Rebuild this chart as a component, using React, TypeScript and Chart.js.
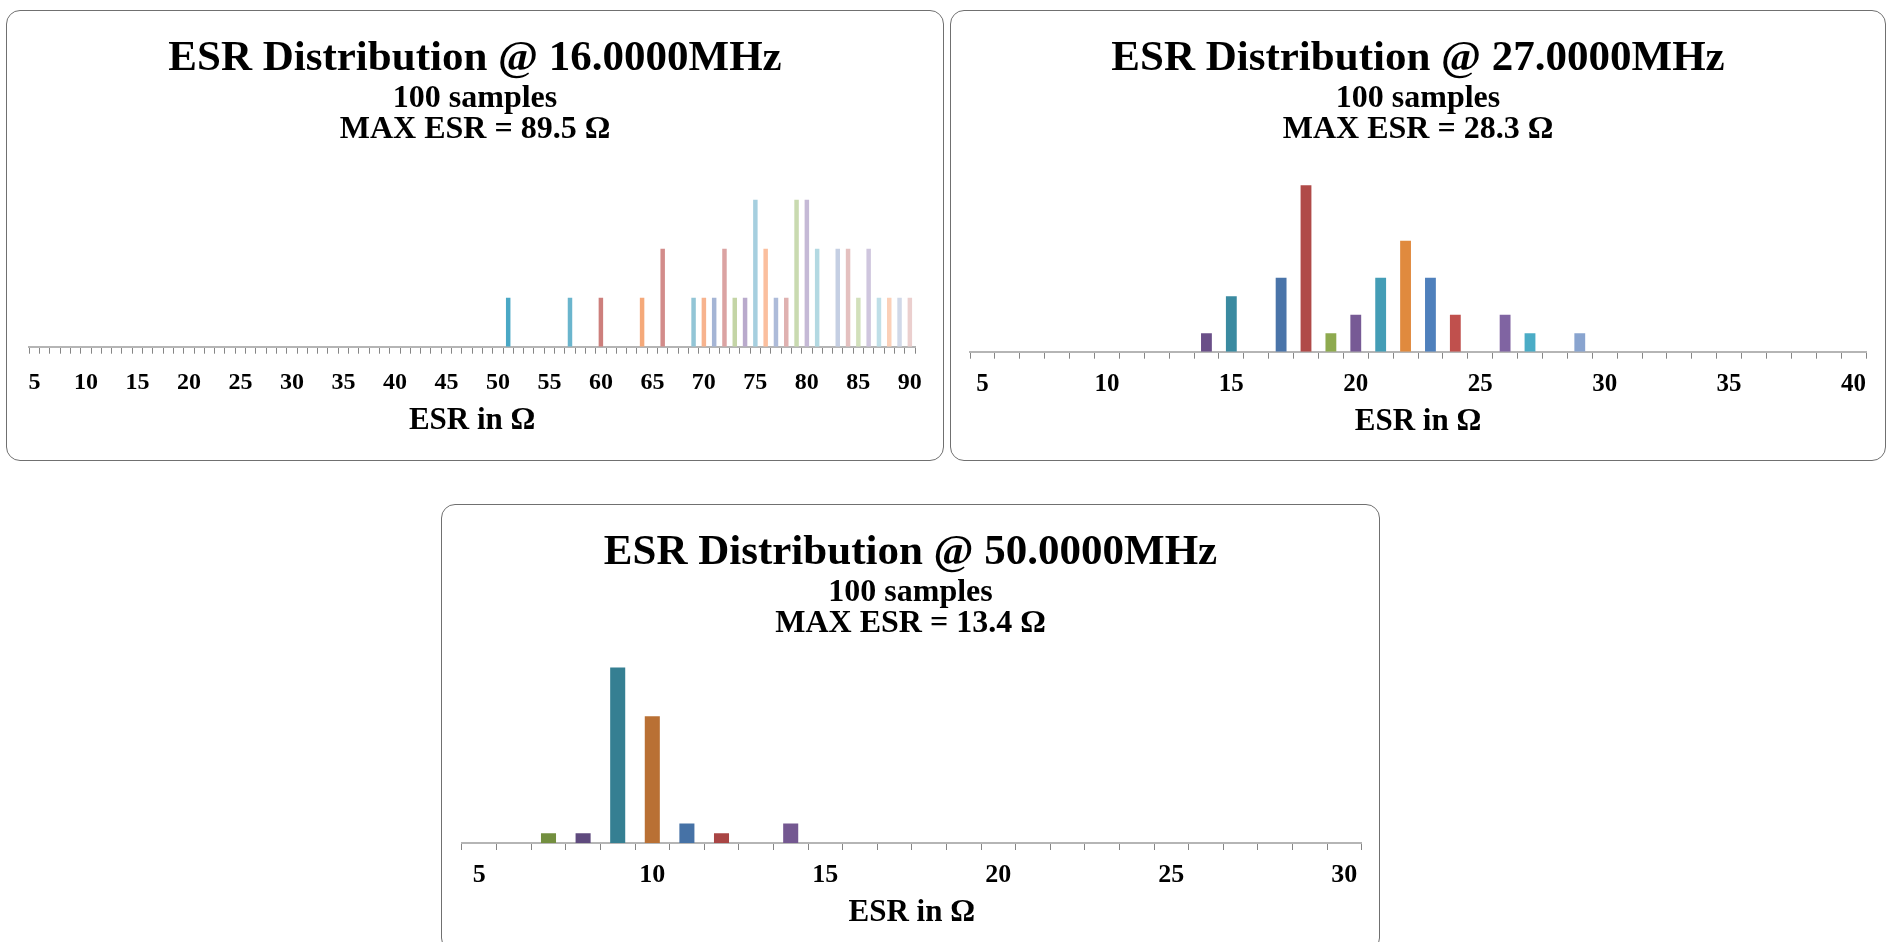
import React, { useEffect, useRef } from "react";
import { Chart, registerables } from "chart.js";

Chart.register(...registerables);

// ---------- Panel 1: 16 MHz ----------
const esr16Range = [5, 90];
const esr16Bins = [51, 57, 60, 64, 66, 69, 70, 71, 72, 73, 74, 75, 76, 77, 78, 79, 80, 81, 83, 84, 85, 86, 87, 88, 89, 90];
const esr16Counts = [1, 1, 1, 1, 2, 1, 1, 1, 2, 1, 1, 3, 2, 1, 1, 3, 3, 2, 2, 2, 1, 2, 1, 1, 1, 1];
const esr16Colors = [
  "#4aa8c5", "#6ab5cd", "#cd7f7c", "#f5a97a", "#d38c8a", "#92c5d6", "#f7b38e", "#a5b5d5",
  "#dba3a2", "#c4d5a6", "#b9aacc", "#a6cfdf", "#fbbf9e", "#adbbd9", "#dfb1b0", "#c9dab0",
  "#c5b9d6", "#b3d9e2", "#c5cfe3", "#e4c0bf", "#d2e0bb", "#cfc6de", "#bfdfe8", "#fbd0b8",
  "#d0d8e8", "#ebcfce",
];
const esr16Title = ["ESR Distribution @ 16.0000MHz", "100 samples", "MAX ESR = 89.5 Ω"];

// ---------- Panel 2: 27 MHz ----------
const esr27Range = [5, 40];
const esr27Bins = [14, 15, 17, 18, 19, 20, 21, 22, 23, 24, 26, 27, 29];
const esr27Counts = [1, 3, 4, 9, 1, 2, 4, 6, 4, 2, 2, 1, 1];
const esr27Colors = [
  "#6a4f88", "#3a8aa0", "#4a74a9", "#b04a48", "#8eaa4f", "#775a95", "#449db6",
  "#e08a3e", "#4f80bc", "#c0504d", "#8064a2", "#4bacc6", "#89a4cf",
];
const esr27Title = ["ESR Distribution @ 27.0000MHz", "100 samples", "MAX ESR = 28.3 Ω"];

// ---------- Panel 3: 50 MHz ----------
const esr50Range = [5, 30];
const esr50Bins = [7, 8, 9, 10, 11, 12, 14];
const esr50Counts = [1, 1, 18, 13, 2, 1, 2];
const esr50Colors = ["#738f3f", "#5f4a7e", "#357f92", "#b97034", "#4672a6", "#a94544", "#745891"];
const esr50Title = ["ESR Distribution @ 50.0000MHz", "100 samples", "MAX ESR = 13.4 Ω"];

const axisTitle = "ESR in Ω";
const tickStep = 5;

const SERIF = '"Liberation Serif", "Times New Roman", serif';

type PanelCfg = {
  range: number[];
  bins: number[];
  counts: number[];
  colors: string[];
  title: string[];
  rect: { left: number; top: number; width: number; height: number };
  pad: { left: number; right: number; top: number; bottom: number };
  yMax: number;
  tickPad: number;
  tickSize: number;
  titlePad: { top: number; bottom: number };
};

const headerPlugin = {
  id: "header",
  afterDraw(chart: any, _args: any, opts: any) {
    const { ctx, width } = chart;
    ctx.save();
    ctx.fillStyle = "#000";
    ctx.textAlign = "center";
    ctx.textBaseline = "alphabetic";
    (opts.lines || []).forEach((l: any) => {
      ctx.font = `bold ${l.size}px ${SERIF}`;
      ctx.fillText(l.text, width / 2, l.y);
    });
    ctx.restore();
  },
};

function Panel({ cfg }: { cfg: PanelCfg }) {
  const ref = useRef<HTMLCanvasElement | null>(null);
  useEffect(() => {
    if (!ref.current) return;
    const labels: string[] = [];
    for (let v = cfg.range[0]; v <= cfg.range[1]; v++) labels.push(String(v));
    const data = labels.map((l) => {
      const i = cfg.bins.indexOf(Number(l));
      return i >= 0 ? cfg.counts[i] : 0;
    });
    const colors = labels.map((l) => {
      const i = cfg.bins.indexOf(Number(l));
      return i >= 0 ? cfg.colors[i] : "rgba(0,0,0,0)";
    });
    const chart = new Chart(ref.current, {
      type: "bar",
      data: {
        labels,
        datasets: [
          {
            data,
            backgroundColor: colors,
            borderWidth: 0,
            barPercentage: 0.435,
            categoryPercentage: 1,
          },
        ],
      },
      plugins: [headerPlugin as any],
      options: {
        animation: false,
        responsive: false,
        devicePixelRatio: 1,
        layout: { padding: cfg.pad },
        plugins: {
          legend: { display: false },
          title: { display: false },
          tooltip: { enabled: false },
          header: {
            lines: [
              { text: cfg.title[0], size: 43, y: 60 },
              { text: cfg.title[1], size: 32, y: 97 },
              { text: cfg.title[2], size: 32, y: 128 },
            ],
          },
        } as any,
        scales: {
          x: {
            offset: true,
            grid: {
              offset: true,
              drawOnChartArea: false,
              drawTicks: true,
              tickLength: 7,
              color: "#858585",
              lineWidth: 1,
            },
            border: { display: true, color: "#b5b5b5", width: 2 },
            ticks: {
              autoSkip: false,
              maxRotation: 0,
              minRotation: 0,
              padding: cfg.tickPad,
              color: "#000",
              font: { family: SERIF, size: cfg.tickSize, weight: "bold", lineHeight: 1.2 },
              callback: function (this: any, value: any) {
                const lab = Number(this.getLabelForValue(value));
                return lab % tickStep === 0 ? String(lab) : "";
              },
            },
            title: {
              display: true,
              text: axisTitle,
              color: "#000",
              font: { family: SERIF, size: 31, weight: "bold", lineHeight: 1.2 },
              padding: cfg.titlePad,
            },
          },
          y: {
            display: false,
            min: 0,
            max: cfg.yMax,
          },
        },
      },
    });
    return () => chart.destroy();
  }, [cfg]);

  const r = cfg.rect;
  return (
    <>
      <div
        style={{
          position: "absolute",
          left: r.left,
          top: r.top,
          width: r.width,
          height: r.height,
          boxSizing: "border-box",
          border: "1.5px solid #707070",
          borderRadius: 14,
          background: "#fff",
        }}
      />
      <canvas
        ref={ref}
        width={r.width}
        height={r.height}
        style={{ position: "absolute", left: r.left, top: r.top, width: r.width, height: r.height }}
      />
    </>
  );
}

const panels: PanelCfg[] = [
  {
    range: esr16Range,
    bins: esr16Bins,
    counts: esr16Counts,
    colors: esr16Colors,
    title: esr16Title,
    rect: { left: 6, top: 10, width: 938, height: 451 },
    pad: { left: 23.3, right: 29, top: 165.2, bottom: 11.2 },
    yMax: 3.5,
    tickPad: 14.5,
    tickSize: 24,
    titlePad: { top: -8.9, bottom: 10 },
  },
  {
    range: esr27Range,
    bins: esr27Bins,
    counts: esr27Counts,
    colors: esr27Colors,
    title: esr27Title,
    rect: { left: 950, top: 10, width: 936, height: 451 },
    pad: { left: 20, right: 20, top: 156.7, bottom: 10.6 },
    yMax: 10,
    tickPad: 11.2,
    tickSize: 25,
    titlePad: { top: -7.9, bottom: 10 },
  },
  {
    range: esr50Range,
    bins: esr50Bins,
    counts: esr50Counts,
    colors: esr50Colors,
    title: esr50Title,
    rect: { left: 441, top: 504, width: 939, height: 448 },
    pad: { left: 21, right: 18.4, top: 144, bottom: 10.9 },
    yMax: 20,
    tickPad: 9.6,
    tickSize: 26,
    titlePad: { top: -6.5, bottom: 10 },
  },
];

export default function App() {
  return (
    <div
      style={{
        position: "fixed",
        left: 0,
        top: 0,
        width: 1895,
        height: 942,
        overflow: "hidden",
        background: "#fff",
      }}
    >
      {panels.map((p, i) => (
        <Panel key={i} cfg={p} />
      ))}
    </div>
  );
}
